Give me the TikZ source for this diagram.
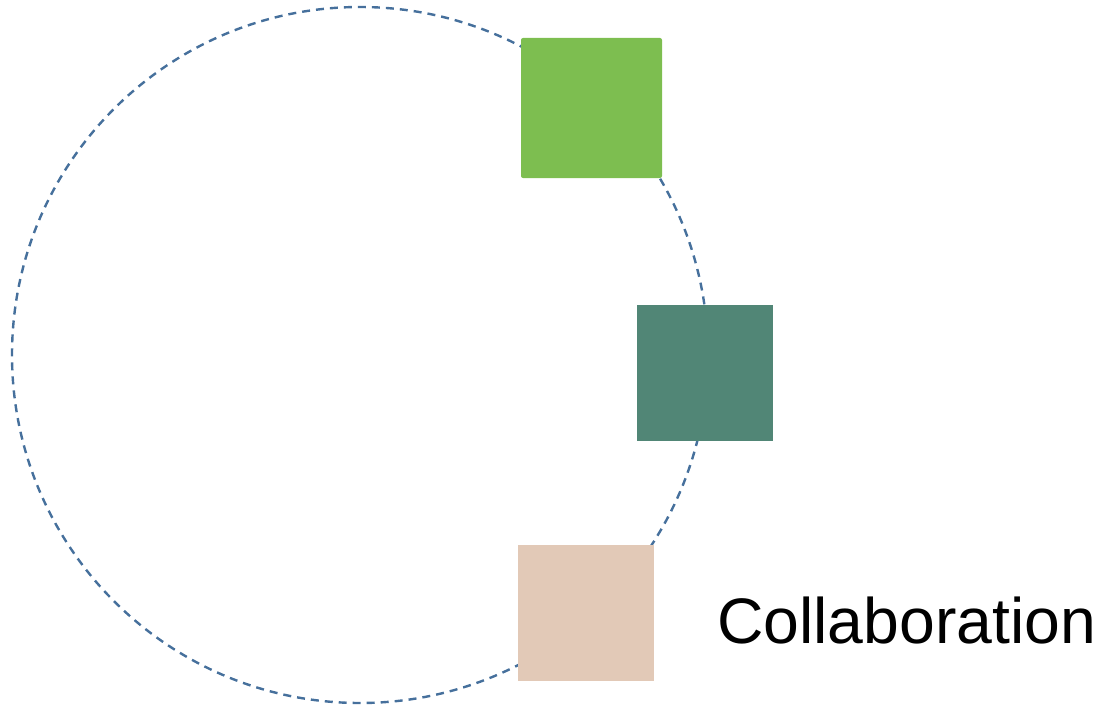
\documentclass[tikz,border=0pt]{standalone}
\usepackage{fontspec}
\setmainfont{Liberation Sans}
\usepackage{xcolor}
\usepackage{tikz}
\usetikzlibrary{positioning,calc}
\definecolor{ringblue}{HTML}{46709C}
\definecolor{leafgreen}{HTML}{7DBE50}
\definecolor{sagegreen}{HTML}{518676}
\definecolor{sandbeige}{HTML}{E2C9B7}

\begin{document}
\begin{tikzpicture}[x=1pt,y=-1pt,
    block/.style={minimum width=136pt,minimum height=136pt,inner sep=0pt,outer sep=0pt}]
    \useasboundingbox (0,0) rectangle (1101,709);
    \draw[ringblue,line width=2.4pt,dash pattern=on 8pt off 6pt] (360,355) circle (348);
    \node[block,fill=leafgreen,rounded corners=2pt,minimum width=141pt,minimum height=140pt] (plan) at (591.5,108) {};
    \node[block,fill=sagegreen] (build) at (705,372.5) {};
    \node[block,fill=sandbeige] (collab) at (586,612.5) {};
    \node[anchor=base west,inner sep=0pt,font=\fontsize{64.3}{70}\selectfont] (label) at (717,643) {Collaboration};
\end{tikzpicture}
\end{document}
